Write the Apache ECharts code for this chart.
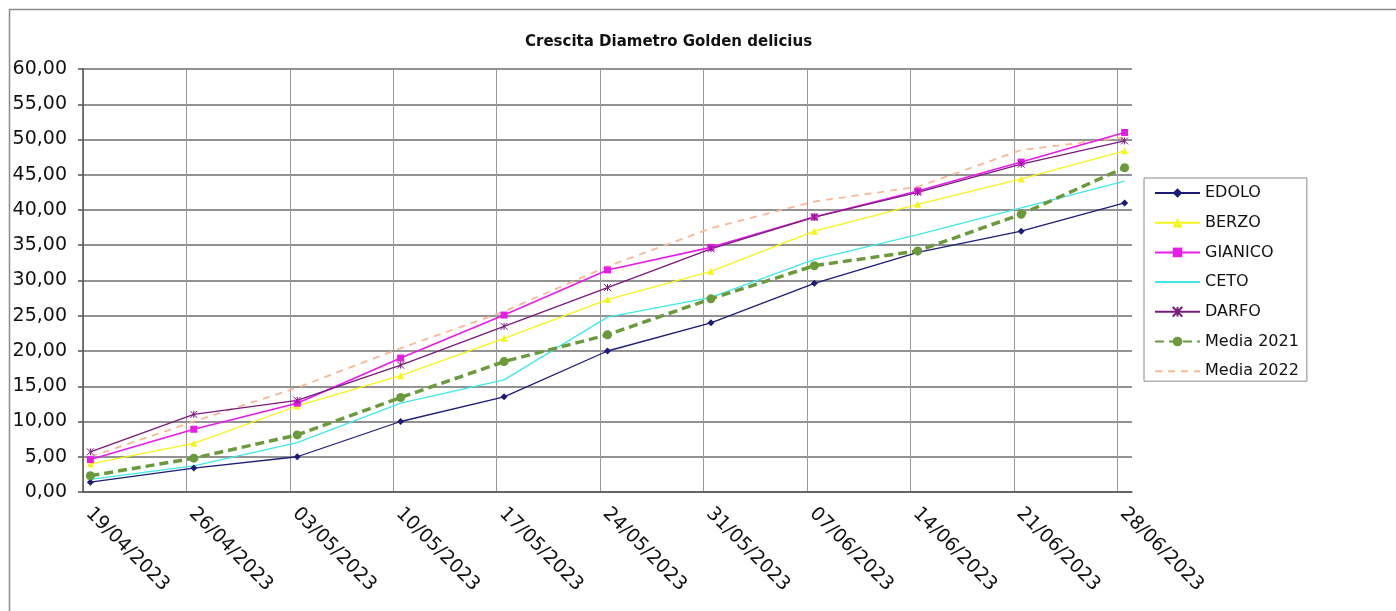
<!DOCTYPE html>
<html>
<head>
<meta charset="utf-8">
<title>Crescita Diametro Golden delicius</title>
<script src="https://cdn.jsdelivr.net/npm/echarts@6/dist/echarts.min.js"></script>
<style>
  html, body { margin: 0; padding: 0; background: #ffffff; }
  #chart { width: 1396px; height: 611px; }
</style>
</head>
<body>
<div id="chart"></div>
<script>
// Sampling dates (weekly measurements)
const dates = ['19/04/2023', '26/04/2023', '03/05/2023', '10/05/2023', '17/05/2023', '24/05/2023',
               '31/05/2023', '07/06/2023', '14/06/2023', '21/06/2023', '28/06/2023'];

// Fruit diameter (mm) per site
const edolo     = [1.4, 3.4, 5.0, 10.0, 13.5, 20.0, 24.0, 29.6, 34.0, 37.0, 41.0];
const berzo     = [4.0, 6.9, 12.2, 16.5, 21.8, 27.3, 31.3, 37.0, 40.8, 44.4, 48.4];
const gianico   = [4.6, 8.9, 12.6, 19.0, 25.1, 31.5, 34.7, 39.0, 42.7, 46.8, 51.0];
const ceto      = [1.8, 3.7, 7.0, 12.6, 15.9, 24.8, 27.6, 33.0, 36.5, 40.3, 44.1];
const darfo     = [5.7, 11.0, 13.0, 18.0, 23.5, 29.0, 34.5, 39.0, 42.5, 46.5, 49.8];
const media2021 = [2.3, 4.8, 8.1, 13.4, 18.5, 22.3, 27.4, 32.1, 34.2, 39.4, 46.0];
const media2022 = [5.0, 10.0, 14.8, 20.4, 25.6, 32.0, 37.4, 41.2, 43.3, 48.5, 50.3];

// Y axis range / step
const yMin = 0, yMax = 60, yStep = 5;

// Date axis: days counted from the first sample, each date centred in its day slot
function toDay(s) {
  const p = s.split('/').map(Number);
  return Date.UTC(p[2], p[1] - 1, p[0]) / 86400000;
}
const day0 = toDay(dates[0]);
const dayPos = dates.map(d => toDay(d) - day0 + 0.5);
const xMax = toDay(dates[dates.length - 1]) - day0 + 1;
const labelByDay = {};
dates.forEach(d => { labelByDay[toDay(d) - day0] = d; });

const pair = vals => vals.map((v, i) => [dayPos[i], v]);

const FONT = "'DejaVu Sans', 'Liberation Sans', Arial, sans-serif";

const chart = echarts.init(document.getElementById('chart'), null, { renderer: 'canvas' });

function lineSeries(name, vals, color, extra) {
  return Object.assign({
    name: name,
    type: 'line',
    data: pair(vals),
    symbol: 'none',
    symbolSize: 6,
    lineStyle: { color: color, width: 1.3 },
    itemStyle: { color: color },
    emphasis: { disabled: true },
    animation: false,
    clip: false
  }, extra || {});
}

const option = {
  backgroundColor: '#ffffff',
  animation: false,
  textStyle: { fontFamily: FONT },
  graphic: [{
    type: 'rect',
    shape: { x: 9.5, y: 9.5, width: 1400, height: 620 },
    style: { fill: 'none', stroke: '#8c8c8c', lineWidth: 1.5 },
    silent: true
  }],
  title: {
    text: 'Crescita Diametro Golden delicius',
    left: 520,
    top: 30,
    textStyle: { fontFamily: FONT, fontSize: 15, fontWeight: 'bold', color: '#111111' }
  },
  legend: {
    orient: 'vertical',
    left: 1144,
    top: 178,
    padding: [7, 8, 2, 10],
    itemGap: 13.7,
    itemWidth: 45,
    itemHeight: 12,
    borderColor: '#8c8c8c',
    borderWidth: 1,
    backgroundColor: '#ffffff',
    textStyle: { fontFamily: FONT, fontSize: 16, color: '#111111', lineHeight: 15 },
    data: [
      'EDOLO', 'BERZO', 'GIANICO',
      { name: 'CETO', itemStyle: { opacity: 0 } },
      'DARFO', 'Media 2021',
      { name: 'Media 2022', itemStyle: { opacity: 0 } }
    ]
  },
  grid: { left: 83, top: 69, width: 1049, height: 423, containLabel: false },
  xAxis: {
    type: 'value',
    min: 0,
    max: xMax,
    interval: 7,
    axisLine: { show: true, onZero: false, lineStyle: { color: '#555555', width: 1.5 } },
    axisTick: { show: false },
    axisLabel: {
      rotate: -45,
      margin: 13,
      padding: [0, 0, 0, 8],
      showMaxLabel: false,
      fontFamily: FONT,
      fontSize: 19,
      color: '#111111',
      formatter: v => labelByDay[v] || ''
    },
    splitLine: { show: true, showMaxLine: false, lineStyle: { color: '#9a9a9a', width: 1 } }
  },
  yAxis: {
    type: 'value',
    min: yMin,
    max: yMax,
    interval: yStep,
    axisLine: { show: true, lineStyle: { color: '#555555', width: 1.5 } },
    axisTick: { show: true, length: 5, lineStyle: { color: '#555555', width: 1.5 } },
    axisLabel: {
      margin: 16,
      fontFamily: FONT,
      fontSize: 19,
      color: '#111111',
      formatter: v => v.toFixed(2).replace('.', ',')
    },
    splitLine: { show: true, lineStyle: { color: '#6e6e6e', width: 1.5 } }
  },
  series: [
    lineSeries('EDOLO', edolo, '#1c1c78', { symbol: 'diamond', symbolSize: 7 }),
    lineSeries('BERZO', berzo, '#f5f51a', { symbol: 'triangle', symbolSize: 7 }),
    lineSeries('GIANICO', gianico, '#e81ce8', { symbol: 'rect', symbolSize: 7, lineStyle: { color: '#e81ce8', width: 1.6 } }),
    lineSeries('CETO', ceto, '#40e8e8'),
    lineSeries('DARFO', darfo, '#7a1a7a', {
      symbol: 'path://M0 0L10 10M10 0L0 10M5 0L5 10',
      symbolSize: 7,
      itemStyle: { color: 'none', borderColor: '#7a1a7a', borderWidth: 1 }
    }),
    lineSeries('Media 2021', media2021, '#6b9a3c', {
      symbol: 'circle',
      symbolSize: 9,
      lineStyle: { color: '#6b9a3c', width: 3.5, type: [9, 5] },
      z: 3
    }),
    lineSeries('Media 2022', media2022, '#f7b898', {
      lineStyle: { color: '#f7b898', width: 1.8, type: [7, 6] },
      z: 1
    })
  ]
};

chart.setOption(option);
</script>
</body>
</html>
